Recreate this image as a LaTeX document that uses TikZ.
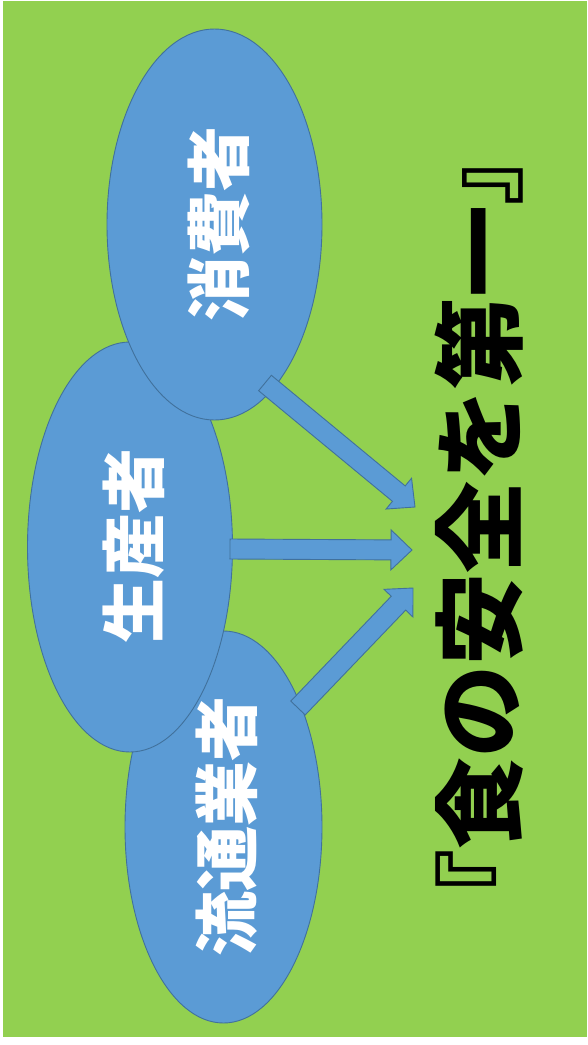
\documentclass[tikz,border=0pt]{standalone}
\usepackage{fontspec}
\newfontfamily\jp{Noto Sans CJK JP}
\usetikzlibrary{shapes.geometric,calc}
\definecolor{bggreen}{HTML}{92D050}
\definecolor{bubblefill}{HTML}{5B9BD5}
\definecolor{bubbleline}{HTML}{41719C}
\tikzset{
  bubble/.style={ellipse, draw=bubbleline, fill=bubblefill, line width=0.9pt, inner sep=0pt},
  bubbletext/.style={rotate=90, text=white, font=\jp\bfseries\fontsize{65}{65}\selectfont, inner sep=0pt},
  titletext/.style={rotate=90, text=black, font=\jp\bfseries\fontsize{92}{92}\selectfont, inner sep=0pt},
  blockarrow/.style={fill=bubblefill, draw=bubbleline, line width=0.9pt, line join=miter}
}
\newcommand\blkarrow[2]{%
  \coordinate (h) at ($(#2)!21pt!(#1)$);
  \filldraw[blockarrow]
    ($(#1)!10pt!90:(#2)$) -- ($(h)!10pt!90:(#2)$) -- ($(h)!20pt!90:(#2)$) -- (#2)
    -- ($(h)!20pt!-90:(#2)$) -- ($(h)!10pt!-90:(#2)$) -- ($(#1)!10pt!-90:(#2)$) -- cycle;
}
\begin{document}
\begin{tikzpicture}[x=1pt,y=-1pt]
\fill[white] (0,0) rectangle (587,1045);
\useasboundingbox (0,0) rectangle (587,1045);
\fill[bggreen] (3,1) rectangle (587,1037);
% bubbles
\node[bubble, minimum width=197pt, minimum height=392pt] (dist) at (223.5,827) {};
\node[bubble, minimum width=205pt, minimum height=410pt] (prod) at (130,547) {};
\node[bubble, minimum width=215pt, minimum height=391pt] (cons) at (214.5,224.5) {};
\node[bubbletext] (distt) at (227,826) {流通業者};
\node[bubbletext] (prodt) at (134,546) {生産者};
\node[bubbletext] (const) at (219,224) {消費者};
% title
\node[titletext] (title) at (479,527) {『食の安全を第一』};
% arrow ends
\coordinate (a1s) at (265,383);
\coordinate (a1e) at (415,507);
\coordinate (a2s) at (230,549);
\coordinate (a2e) at (412,550);
\coordinate (a3s) at (298,708);
\coordinate (a3e) at (413,588);
\blkarrow{a1s}{a1e}
\blkarrow{a2s}{a2e}
\blkarrow{a3s}{a3e}
\end{tikzpicture}
\end{document}
